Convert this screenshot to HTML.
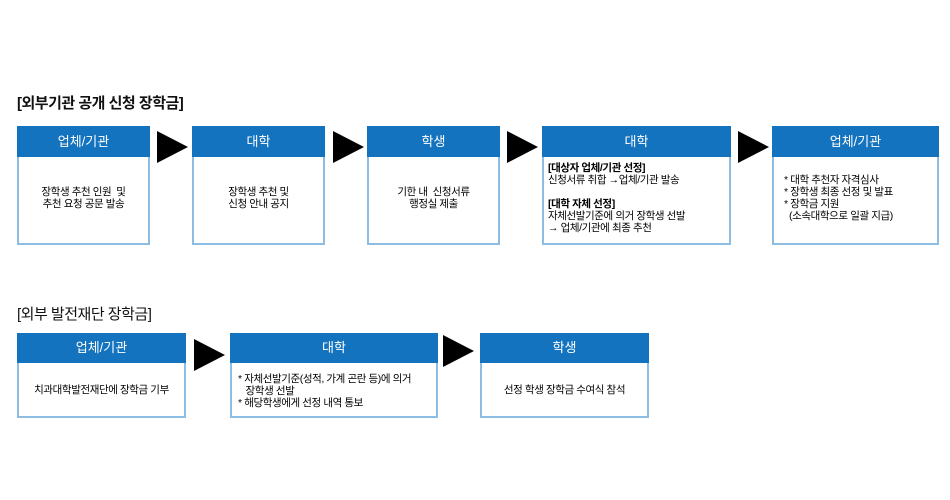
<!DOCTYPE html>
<html><head><meta charset="utf-8"><style>
body{margin:0;width:950px;height:500px;background:#fff;position:relative;overflow:hidden;font-family:"Liberation Sans","Noto Sans CJK KR",sans-serif;}
.t{position:absolute;font-size:15px;color:#111;letter-spacing:-0.5px;font-weight:bold}
.b{position:absolute;border:2px solid #8ebde3;box-sizing:border-box;background:#fff}
.h{background:#1473be;color:#fff;font-size:13px;text-align:center;margin:-2px -2px 0 -2px;}
.c{position:absolute;left:0;right:0;font-size:10.5px;color:#000;text-align:center;line-height:12px;letter-spacing:-0.4px}
.l{text-align:left;padding-left:6px}
.a{position:absolute;width:0;height:0;border-top:16px solid transparent;border-bottom:16px solid transparent;border-left:31px solid #000}
</style></head><body>
<div class="t" style="left:17px;top:92px">[외부기관 공개 신청 장학금]</div>
<div class="b" style="left:17px;top:126px;width:133px;height:119px"><div class="h" style="height:31px;line-height:31px">업체/기관</div><div class="c" style="top:58px">장학생 추천 인원&nbsp; 및<br>추천 요청 공문 발송</div></div>
<div class="a" style="left:157px;top:131px"></div>
<div class="b" style="left:192px;top:126px;width:133px;height:119px"><div class="h" style="height:31px;line-height:31px">대학</div><div class="c" style="top:58px">장학생 추천 및<br>신청 안내 공지</div></div>
<div class="a" style="left:333px;top:131px"></div>
<div class="b" style="left:367px;top:126px;width:133px;height:119px"><div class="h" style="height:31px;line-height:31px">학생</div><div class="c" style="top:58px">기한 내&nbsp; 신청서류<br>행정실 제출</div></div>
<div class="a" style="left:507px;top:131px"></div>
<div class="b" style="left:542px;top:126px;width:189px;height:119px"><div class="h" style="height:31px;line-height:31px">대학</div><div class="c l" style="top:34px;left:-2px"><b>[대상자 업체/기관 선정]</b><br>신청서류 취합 →업체/기관 발송<br><br><b>[대학 자체 선정]</b><br>자체선발기준에 의거 장학생 선발<br>→ 업체/기관에 최종 추천</div></div>
<div class="a" style="left:738px;top:131px"></div>
<div class="b" style="left:772px;top:126px;width:167px;height:119px"><div class="h" style="height:31px;line-height:31px">업체/기관</div><div class="c l" style="top:46px;left:4px">* 대학 추천자 자격심사<br>* 장학생 최종 선정 및 발표<br>* 장학금 지원<br>&nbsp;&nbsp;(소속대학으로 일괄 지급)</div></div>

<div class="t" style="left:17px;top:303px;font-weight:normal">[외부 발전재단 장학금]</div>
<div class="b" style="left:17px;top:333px;width:169px;height:85px"><div class="h" style="height:30px;line-height:30px">업체/기관</div><div class="c" style="top:49px">치과대학발전재단에 장학금 기부</div></div>
<div class="a" style="left:194px;top:339px"></div>
<div class="b" style="left:230px;top:333px;width:208px;height:85px"><div class="h" style="height:30px;line-height:30px">대학</div><div class="c l" style="top:38px;left:0px">* 자체선발기준(성적, 가계 곤란 등)에 의거<br>&nbsp;&nbsp;&nbsp;장학생 선발<br>* 해당학생에게 선정 내역 통보</div></div>
<div class="a" style="left:443px;top:335px"></div>
<div class="b" style="left:480px;top:333px;width:169px;height:85px"><div class="h" style="height:30px;line-height:30px">학생</div><div class="c" style="top:49px">선정 학생 장학금 수여식 참석</div></div>
</body></html>
